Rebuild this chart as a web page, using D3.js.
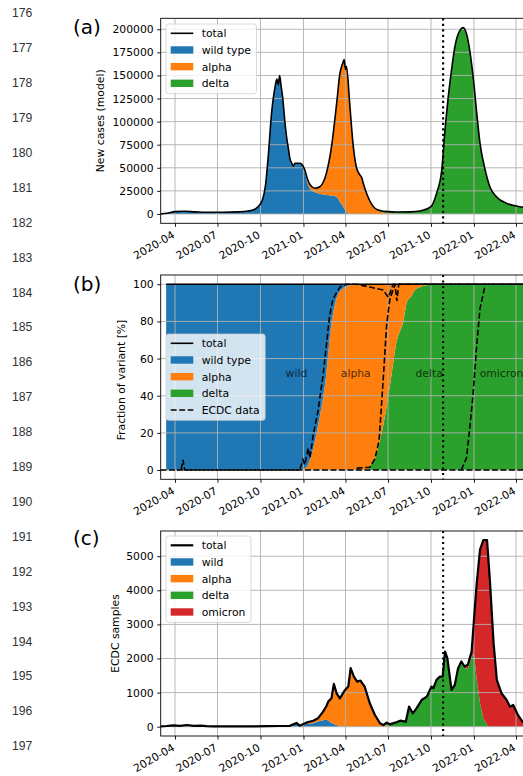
<!DOCTYPE html>
<html>
<head>
<meta charset="utf-8">
<script src="https://cdn.jsdelivr.net/npm/d3@7/dist/d3.min.js"></script>
<style>
  body { margin: 0; background: #fff; }
  #chart svg { display: block; }
  text { font-family: "DejaVu Sans", sans-serif; }
</style>
</head>
<body>
<div id="chart"></div>
<script>
// manuscript line numbers in the left margin
const lineNumbers = [176, 177, 178, 179, 180, 181, 182, 183, 184, 185, 186,
  187, 188, 189, 190, 191, 192, 193, 194, 195, 196, 197];

// quarterly x ticks shared by all panels
const xTickLabels = ["2020-04", "2020-07", "2020-10", "2021-01", "2021-04",
  "2021-07", "2021-10", "2022-01", "2022-04"];
const markerDate = "2021-10-27";

// (a) model new cases
const aDates = ["2020-03-01", "2020-03-15", "2020-04-01", "2020-04-20", "2020-05-15", "2020-06-15", "2020-07-15", "2020-08-15", "2020-09-01", "2020-09-15", "2020-09-25",
  "2020-10-05", "2020-10-12", "2020-10-18", "2020-10-24", "2020-11-01", "2020-11-05", "2020-11-08", "2020-11-11", "2020-11-14", "2020-11-18", "2020-11-22", "2020-11-26", "2020-11-30",
  "2020-12-03", "2020-12-07", "2020-12-10", "2020-12-14", "2020-12-24", "2020-12-28",
  "2021-01-04", "2021-01-10", "2021-01-17", "2021-01-26", "2021-02-05", "2021-02-19", "2021-03-02", "2021-03-13", "2021-03-20", "2021-03-26", "2021-03-29", "2021-04-01", "2021-04-03", "2021-04-10", "2021-04-17", "2021-04-24",
  "2021-05-02", "2021-05-06", "2021-05-09", "2021-05-19", "2021-06-03", "2021-06-15", "2021-07-01", "2021-07-20", "2021-08-17", "2021-09-10",
  "2021-10-01", "2021-10-13", "2021-10-24", "2021-10-31", "2021-11-07", "2021-11-14", "2021-11-21", "2021-12-02", "2021-12-09", "2021-12-16", "2021-12-24", "2021-12-31",
  "2022-01-07", "2022-01-14", "2022-01-25", "2022-02-04", "2022-02-18", "2022-03-12", "2022-04-09", "2022-05-01"];
const aWild = [0, 800, 2500, 2900, 2300, 1800, 1800, 2300, 2900, 4200, 7500,
  15000, 32000, 65000, 105000, 137000, 146000, 140000, 150000, 139000, 124000, 101000, 83000, 70000,
  60000, 55000, 52000, 55000, 55000, 53000,
  45000, 33000, 26000, 23500, 22000, 20500, 20000, 18500, 13300, 9000, 6200, 3500, 2000, 500, 0, 0,
  0, 0, 0, 0, 0, 0, 0, 0, 0, 0,
  0, 0, 0, 0, 0, 0, 0, 0, 0, 0, 0, 0,
  0, 0, 0, 0, 0, 0, 0, 0];
const aAlpha = [0, 0, 0, 0, 0, 0, 0, 0, 0, 0, 0,
  0, 0, 0, 0, 0, 0, 0, 0, 0, 0, 0, 0, 0,
  0, 0, 0, 0, 0, 1000,
  2500, 4000, 4500, 4300, 7500, 23500, 52700, 101000, 138700, 154000, 161000, 153000, 158000, 119000, 76400, 51100,
  42100, 39000, 33200, 18700, 5700, 2500, 1000, 300, 0, 0,
  0, 0, 0, 0, 0, 0, 0, 0, 0, 0, 0, 0,
  0, 0, 0, 0, 0, 0, 0, 0];
const aDelta = [0, 0, 0, 0, 0, 0, 0, 0, 0, 0, 0,
  0, 0, 0, 0, 0, 0, 0, 0, 0, 0, 0, 0, 0,
  0, 0, 0, 0, 0, 0,
  0, 0, 0, 0, 0, 0, 0, 0, 0, 0, 0, 0, 0, 0, 0, 0,
  0, 0, 0, 0, 500, 1000, 1500, 1900, 2300, 3500,
  7900, 22400, 47600, 90800, 126800, 155700, 180800, 198900, 201800, 195300, 173700, 144900,
  108900, 76400, 47600, 29500, 18700, 11500, 7900, 6500];
const aTicks = [0, 25000, 50000, 75000, 100000, 125000, 150000, 175000, 200000];

// (b) model fraction of each variant [%]
const bDates = ["2020-03-13", "2020-12-25", "2021-01-01", "2021-01-09", "2021-01-20", "2021-02-02", "2021-02-18", "2021-02-28", "2021-03-10", "2021-03-23", "2021-04-10",
  "2021-05-12", "2021-05-19", "2021-05-23", "2021-06-03", "2021-06-14", "2021-06-28", "2021-07-09", "2021-07-20", "2021-07-27", "2021-08-03", "2021-08-10", "2021-08-21", "2021-08-28", "2021-09-08", "2021-09-30", "2021-10-21", "2022-05-01"];
const bWild = [100, 100, 99.5, 98, 90, 75, 50, 25, 10, 3, 0.5,
  0, 0, 0, 0, 0, 0, 0, 0, 0, 0, 0, 0, 0, 0, 0, 0, 0];
const bAlpha = [0, 0, 0.5, 2, 10, 25, 50, 75, 90, 97, 99.5,
  100, 100, 98, 94, 84, 66, 48, 30, 25, 20, 10, 6, 3, 1.5, 0.3, 0, 0];
const bDelta = [0, 0, 0, 0, 0, 0, 0, 0, 0, 0, 0,
  0, 0, 2, 6, 16, 34, 52, 70, 75, 80, 90, 94, 97, 98.5, 99.7, 100, 100];
const bTicks = [0, 20, 40, 60, 80, 100];
const bLabels = ["wild", "alpha", "delta", "omicron"];
const bLabelDates = ["2020-12-17", "2021-04-23", "2021-09-27", "2022-03-01"];

// (b) ECDC data, cumulative shares [%]
const ecdcBaseDates = ["2020-03-01", "2022-05-01"];
const ecdcBase = [0, 0];
const ecdcNonWildDates = ["2020-04-05", "2020-04-14", "2020-04-18", "2020-04-22", "2020-12-21", "2020-12-24", "2020-12-31",
  "2021-01-04", "2021-01-11", "2021-01-15", "2021-01-22", "2021-02-01", "2021-02-12", "2021-02-19", "2021-02-26",
  "2021-03-05", "2021-03-20", "2021-04-03", "2021-04-25", "2021-05-23", "2021-06-20", "2021-07-02", "2021-07-12", "2022-05-01"];
const ecdcNonWild = [0, 0, 5.4, 0, 0, 0, 5.5,
  2.8, 11.8, 6.5, 19, 31.5, 51, 67, 83,
  92, 98.5, 100, 100, 98.5, 97, 93, 100, 100];
const ecdcDeltaDates = ["2021-04-25", "2021-05-23", "2021-06-03", "2021-06-12", "2021-06-21", "2021-06-28",
  "2021-07-05", "2021-07-12", "2021-07-16", "2021-07-20", "2021-07-24", "2022-05-01"];
const ecdcDelta = [1, 1.5, 6, 16, 50, 78, 92, 97, 100, 91, 100, 100];
const ecdcOmicronDates = ["2021-12-05", "2021-12-16", "2021-12-23", "2021-12-30", "2022-01-07", "2022-01-14", "2022-01-24"];
const ecdcOmicron = [0, 6.5, 22.6, 40.5, 67.4, 87, 98.4];

// (c) ECDC samples per variant
const cDates = ["2020-03-01", "2020-03-14", "2020-03-28", "2020-04-11", "2020-04-27", "2020-05-11", "2020-05-25", "2020-06-08", "2020-06-22", "2020-07-15", "2020-08-15", "2020-09-15", "2020-10-15", "2020-11-11", "2020-12-03", "2020-12-17", "2020-12-24",
  "2021-01-07", "2021-01-22", "2021-02-01", "2021-02-12", "2021-02-19", "2021-02-23", "2021-03-02", "2021-03-07", "2021-03-13", "2021-03-20", "2021-03-31", "2021-04-07", "2021-04-12", "2021-04-19", "2021-04-26", "2021-05-03", "2021-05-12", "2021-05-23", "2021-06-03",
  "2021-06-14", "2021-06-21", "2021-06-28", "2021-07-05", "2021-07-16", "2021-07-27", "2021-08-08", "2021-08-15", "2021-08-23", "2021-08-31", "2021-09-11", "2021-09-22", "2021-10-02", "2021-10-06", "2021-10-13", "2021-10-20", "2021-10-26", "2021-10-31", "2021-11-05", "2021-11-14", "2021-11-21", "2021-11-28", "2021-12-05",
  "2021-12-12", "2021-12-19", "2021-12-27", "2022-01-01", "2022-01-07", "2022-01-14", "2022-01-21", "2022-01-29", "2022-02-04", "2022-02-12", "2022-02-19", "2022-03-01", "2022-03-12", "2022-03-19", "2022-03-26", "2022-04-05", "2022-04-15", "2022-04-25"];
const cWild = [10, 20, 40, 25, 50, 25, 30, 15, 10, 8, 8, 10, 15, 20, 25, 110, 30,
  80, 100, 150, 190, 200, 180, 110, 80, 50, 15, 5, 0, 0, 0, 0, 0, 0, 0, 0,
  0, 0, 0, 0, 0, 0, 0, 0, 0, 0, 0, 0, 0, 0, 0, 0, 0, 0, 0, 0, 0, 0, 0,
  0, 0, 0, 0, 0, 0, 0, 0, 0, 0, 0, 0, 0, 0, 0, 0, 0, 0];
const cAlpha = [0, 0, 0, 0, 0, 0, 0, 0, 0, 0, 0, 0, 0, 0, 0, 0, 0,
  38, 76, 95, 251, 400, 555, 723, 1175, 930, 818, 1074, 1176, 1716, 1470, 1323, 1353, 1176, 688, 343,
  80, 20, 40, 10, 0, 0, 0, 0, 0, 0, 0, 0, 0, 0, 0, 0, 0, 0, 0, 0, 0, 0, 0,
  0, 0, 0, 0, 0, 0, 0, 0, 0, 0, 0, 0, 0, 0, 0, 0, 0, 0];
const cDelta = [0, 0, 0, 0, 0, 0, 0, 0, 0, 0, 0, 0, 0, 0, 0, 0, 0,
  0, 0, 0, 0, 0, 0, 0, 0, 0, 0, 0, 0, 0, 0, 0, 0, 0, 0, 0,
  18, 29, 78, 59, 118, 176, 147, 588, 392, 539, 784, 882, 1176, 1127, 1373, 1470, 1470, 2206, 2010, 1079, 1226, 1716, 1912,
  1715, 1714, 2050, 2150, 1373, 688, 245, 49, 0, 0, 0, 0, 0, 0, 0, 0, 0, 0];
const cOmicron = [0, 0, 0, 0, 0, 0, 0, 0, 0, 0, 0, 0, 0, 0, 0, 0, 0,
  0, 0, 0, 0, 0, 0, 0, 0, 0, 0, 0, 0, 0, 0, 0, 0, 0, 0, 0,
  0, 0, 0, 0, 0, 0, 0, 0, 0, 0, 0, 0, 0, 0, 0, 0, 0, 0, 0, 0, 0, 0, 0,
  50, 100, 156, 987, 2843, 4508, 5226, 5422, 4314, 2451, 1373, 980, 784, 588, 637, 343, 147, 60];
const cTicks = [0, 1000, 2000, 3000, 4000, 5000];

const colors = { wild: "#1f77b4", alpha: "#ff7f0e", delta: "#2ca02c", omicron: "#d62728" };

// ---- layout ----
const width = 523, height = 776;
const left = 160.7, right = 570;
const fs = 10.8;
const parseDay = d3.utcParse("%Y-%m-%d");
const parseMonth = d3.utcParse("%Y-%m");

const svg = d3.select("#chart").append("svg")
  .attr("width", width).attr("height", height);

const x = d3.scaleUtc()
  .domain([parseDay("2020-04-01"), parseDay("2022-04-01")])
  .range([175, 516]);

// line numbers
svg.append("g").selectAll("text")
  .data(lineNumbers).enter().append("text")
  .attr("x", 12)
  .attr("y", (d, i) => 17.3 + i * 34.9)
  .style("font-family", "'Liberation Sans', Arial, sans-serif")
  .attr("font-size", 12.2)
  .attr("fill", "#333")
  .text(d => d);

function rowsOf(dates, series) {
  return dates.map((d, i) => {
    const r = { date: parseDay(d) };
    for (const k in series) r[k] = series[k][i];
    return r;
  });
}

function drawPanel(cfg) {
  const y = cfg.y;
  const bottom = y.range()[0], top = y.range()[1];
  const g = svg.append("g");

  svg.append("clipPath").attr("id", "clip-" + cfg.name)
    .append("rect").attr("x", left).attr("y", top)
    .attr("width", right - left).attr("height", bottom - top);
  const plot = g.append("g").attr("clip-path", `url(#clip-${cfg.name})`);

  // stacked areas
  const stack = d3.stack().keys(cfg.keys)(cfg.rows);
  const area = d3.area()
    .x(d => x(d.data.date))
    .y0(d => y(d[0]))
    .y1(d => y(d[1]))
    .curve(cfg.curve);
  plot.selectAll(".layer").data(stack).enter().append("path")
    .attr("d", area)
    .attr("fill", d => colors[d.key]);

  // grid on top of fills
  const grid = plot.append("g");
  grid.selectAll(".vg").data(xTickLabels).enter().append("line")
    .attr("x1", d => x(parseMonth(d))).attr("x2", d => x(parseMonth(d)))
    .attr("y1", top).attr("y2", bottom)
    .attr("stroke", "#b0b0b0").attr("stroke-width", 0.9);
  grid.selectAll(".hg").data(cfg.ticks).enter().append("line")
    .attr("x1", left).attr("x2", right)
    .attr("y1", d => y(d)).attr("y2", d => y(d))
    .attr("stroke", "#b0b0b0").attr("stroke-width", 0.9);

  // total line
  const total = d3.line()
    .x(d => x(d.date))
    .y(d => y(cfg.keys.reduce((s, k) => s + d[k], 0)))
    .curve(cfg.curve);
  plot.append("path").datum(cfg.rows)
    .attr("d", total)
    .attr("fill", "none").attr("stroke", "#000")
    .attr("stroke-width", cfg.totalWidth).attr("stroke-linejoin", "round");

  if (cfg.extra) cfg.extra(plot, y);

  // dotted marker
  g.append("line")
    .attr("x1", x(parseDay(markerDate))).attr("x2", x(parseDay(markerDate)))
    .attr("y1", top).attr("y2", bottom)
    .attr("stroke", "#000").attr("stroke-width", 2.1)
    .attr("stroke-dasharray", "2.1,3.4");

  // frame
  g.append("rect").attr("x", left).attr("y", top)
    .attr("width", right - left).attr("height", bottom - top)
    .attr("fill", "none").attr("stroke", "#000").attr("stroke-width", 0.9);

  // axes
  const yAxis = g.append("g").attr("transform", `translate(${left},0)`)
    .call(d3.axisLeft(y).tickValues(cfg.ticks).tickFormat(d3.format("d"))
      .tickSize(3.5).tickPadding(3.5));
  yAxis.select(".domain").remove();
  yAxis.selectAll("text").attr("font-size", fs).attr("font-family", null);
  yAxis.selectAll("line").attr("stroke-width", 0.9);

  const xAxis = g.append("g").attr("transform", `translate(0,${bottom})`)
    .call(d3.axisBottom(x).tickValues(xTickLabels.map(parseMonth))
      .tickFormat(d3.utcFormat("%Y-%m")).tickSize(3.5));
  xAxis.select(".domain").remove();
  xAxis.selectAll("line").attr("stroke-width", 0.9);
  xAxis.selectAll("text")
    .attr("font-size", fs).attr("font-family", null)
    .attr("text-anchor", "end")
    .attr("x", 0).attr("y", 0).attr("dy", "0.73em")
    .attr("transform", "translate(-4,7) rotate(-30)");

  // y label
  g.append("text")
    .attr("transform", `translate(${cfg.ylabelX},${cfg.ylabelY}) rotate(-90)`)
    .attr("text-anchor", "middle").attr("dy", "0.35em")
    .attr("font-size", fs)
    .text(cfg.ylabel);

  // panel letter
  g.append("text").attr("x", 73).attr("y", cfg.letterY)
    .attr("font-size", 20).text(cfg.letter);

  // legend
  const lg = g.append("g");
  const box = lg.append("rect");
  const rowH = 16.67;
  let maxW = 0;
  cfg.legend.forEach((it, i) => {
    const cy = cfg.legendTop + 9.3 + i * rowH;
    if (it.type === "patch") {
      lg.append("rect").attr("x", 170.7).attr("y", cy - 3.7)
        .attr("width", 22.6).attr("height", 7.4).attr("fill", colors[it.key]);
    } else {
      lg.append("line").attr("x1", 170.7).attr("x2", 193.3)
        .attr("y1", cy).attr("y2", cy)
        .attr("stroke", "#000").attr("stroke-width", it.width)
        .attr("stroke-dasharray", it.dash || null);
    }
    const t = lg.append("text").attr("x", 201.7).attr("y", cy).attr("dy", "0.36em")
      .attr("font-size", fs).text(it.label);
    maxW = Math.max(maxW, t.node().getComputedTextLength());
  });
  box.attr("x", 166).attr("y", cfg.legendTop)
    .attr("width", 201.7 + maxW + 5.5 - 166)
    .attr("height", cfg.legend.length * rowH + 3)
    .attr("rx", 2.5)
    .attr("fill", "#fff").attr("fill-opacity", 0.8)
    .attr("stroke", "#ccc").attr("stroke-opacity", 0.8).attr("stroke-width", 0.9);
}

// (a)
drawPanel({
  name: "a", letter: "(a)", letterY: 34,
  y: d3.scaleLinear().domain([-10100, 211900]).range([223.3, 18.3]),
  ticks: aTicks,
  rows: rowsOf(aDates, { wild: aWild, alpha: aAlpha, delta: aDelta }),
  keys: ["wild", "alpha", "delta"],
  curve: d3.curveMonotoneX, totalWidth: 1.6,
  ylabel: "New cases (model)", ylabelX: 100, ylabelY: 120.8,
  legendTop: 24,
  legend: [
    { type: "line", label: "total", width: 1.6 },
    { type: "patch", key: "wild", label: "wild type" },
    { type: "patch", key: "alpha", label: "alpha" },
    { type: "patch", key: "delta", label: "delta" }
  ]
});

// (b)
const dashPattern = "5.9,2.6";
drawPanel({
  name: "b", letter: "(b)", letterY: 290.5,
  y: d3.scaleLinear().domain([-5, 105]).range([479.3, 275]),
  ticks: bTicks,
  rows: rowsOf(bDates, { wild: bWild, alpha: bAlpha, delta: bDelta }),
  keys: ["delta", "alpha", "wild"],
  curve: d3.curveMonotoneX, totalWidth: 1.6,
  ylabel: "Fraction of variant [%]", ylabelX: 121.7, ylabelY: 380,
  legendTop: 334,
  legend: [
    { type: "line", label: "total", width: 1.6 },
    { type: "patch", key: "wild", label: "wild type" },
    { type: "patch", key: "alpha", label: "alpha" },
    { type: "patch", key: "delta", label: "delta" },
    { type: "line", label: "ECDC data", width: 1.6, dash: dashPattern }
  ],
  extra: (plot, y) => {
    plot.selectAll(".vlab").data(bLabels).enter().append("text")
      .attr("x", (d, i) => x(parseDay(bLabelDates[i])))
      .attr("y", y(50))
      .attr("text-anchor", "middle")
      .attr("font-size", fs).attr("fill", "#000").attr("fill-opacity", 0.72)
      .text(d => d);
    const ecdc = [
      [ecdcBaseDates, ecdcBase, 0],
      [ecdcNonWildDates, ecdcNonWild, 3.75],
      [ecdcDeltaDates, ecdcDelta, 0],
      [ecdcOmicronDates, ecdcOmicron, 0]
    ];
    const ln = d3.line().x(d => x(d.date)).y(d => y(d.v));
    ecdc.forEach(([dates, vals, off]) => {
      plot.append("path")
        .datum(dates.map((d, i) => ({ date: parseDay(d), v: vals[i] })))
        .attr("d", ln)
        .attr("fill", "none").attr("stroke", "#000").attr("stroke-width", 1.6)
        .attr("stroke-dasharray", dashPattern).attr("stroke-dashoffset", off);
    });
  }
});

// (c)
drawPanel({
  name: "c", letter: "(c)", letterY: 545,
  y: d3.scaleLinear().domain([-273, 5740]).range([736, 531]),
  ticks: cTicks,
  rows: rowsOf(cDates, { wild: cWild, alpha: cAlpha, delta: cDelta, omicron: cOmicron }),
  keys: ["wild", "alpha", "delta", "omicron"],
  curve: d3.curveLinear, totalWidth: 2.2,
  ylabel: "ECDC samples", ylabelX: 115, ylabelY: 633.5,
  legendTop: 536,
  legend: [
    { type: "line", label: "total", width: 2.2 },
    { type: "patch", key: "wild", label: "wild" },
    { type: "patch", key: "alpha", label: "alpha" },
    { type: "patch", key: "delta", label: "delta" },
    { type: "patch", key: "omicron", label: "omicron" }
  ]
});
</script>
</body>
</html>
